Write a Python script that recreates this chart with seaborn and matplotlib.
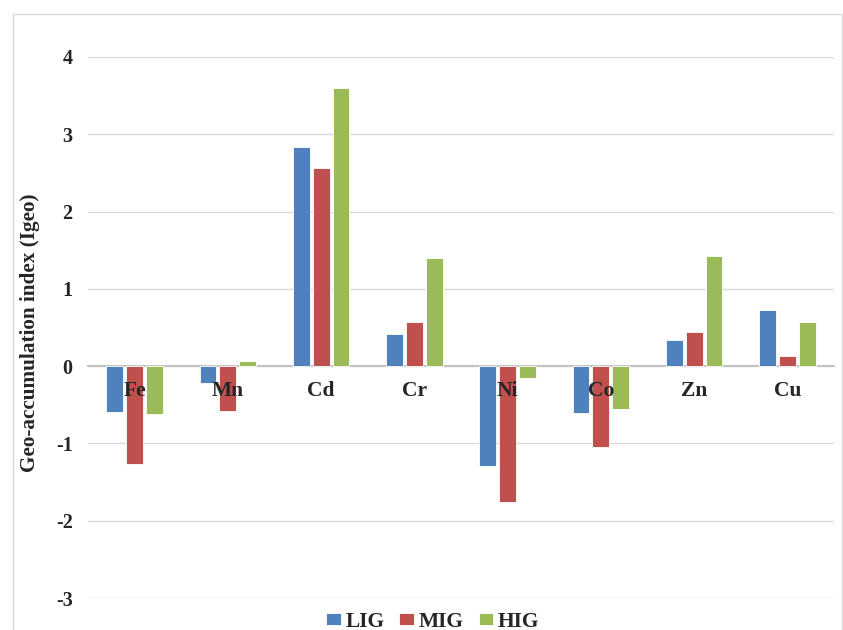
import matplotlib
matplotlib.use("Agg")
import matplotlib.pyplot as plt
from matplotlib.patches import Rectangle
import seaborn as sns
import pandas as pd

metals = ["Fe", "Mn", "Cd", "Cr", "Ni", "Co", "Zn", "Cu"]
lig = [-0.59, -0.22, 2.84, 0.42, -1.29, -0.61, 0.34, 0.73]
mig = [-1.27, -0.58, 2.57, 0.57, -1.76, -1.04, 0.44, 0.13]
hig = [-0.62, 0.07, 3.60, 1.40, -0.15, -0.55, 1.42, 0.57]
groups = ["LIG", "MIG", "HIG"]
colors = ["#4F81BD", "#C0504D", "#9BBB59"]
yticks = [-3, -2, -1, 0, 1, 2, 3, 4]

df = pd.DataFrame({
    "metal": metals * 3,
    "group": [g for g in groups for _ in metals],
    "igeo": lig + mig + hig,
})

sns.set_theme(style="white")
plt.rcParams["font.family"] = ["Liberation Serif", "DejaVu Serif"]
plt.rcParams["font.weight"] = "bold"

W, H = 843, 630
fig = plt.figure(figsize=(W / 100, H / 100), dpi=100)
ax = fig.add_axes([88 / W, 1 - 598 / H, (834 - 88) / W, (598 - 57) / H])

sns.barplot(data=df, x="metal", y="igeo", hue="group", order=metals,
            hue_order=groups, palette=colors, saturation=1, width=0.64,
            gap=0.15, edgecolor="white", linewidth=0.6, errorbar=None,
            ax=ax, zorder=2)

ax.set_ylim(-3, 4)
ax.set_xlim(-0.5, len(metals) - 0.5)
ax.set_yticks(yticks)
ax.set_yticklabels([str(t) for t in yticks], fontsize=14.5, fontweight="bold")
ax.yaxis.grid(True, color="#D9D9D9", linewidth=1.0)
ax.set_axisbelow(True)
ax.xaxis.set_zorder(5)

for side in ["top", "right", "left"]:
    ax.spines[side].set_visible(False)
ax.spines["bottom"].set_position(("data", 0))
ax.spines["bottom"].set_color("#BFBFBF")
ax.spines["bottom"].set_linewidth(1.3)
ax.spines["bottom"].set_zorder(1)

ax.tick_params(axis="x", length=0, pad=11, labelsize=15.5)
ax.tick_params(axis="y", length=0, pad=11)
for lbl in ax.get_xticklabels():
    lbl.set_fontweight("bold")

ax.set_xlabel("")
ax.set_ylabel("Geo-accumulation index (Igeo)", fontsize=15.3,
              fontweight="bold")
ax.yaxis.set_label_coords(-0.064, 0.49)

handles, labels = ax.get_legend_handles_labels()
ax.legend(handles, labels, loc="lower center", bbox_to_anchor=(0.462, -0.098),
          ncol=3, frameon=False, handlelength=0.68, handleheight=0.5,
          handletextpad=0.2, columnspacing=0.7,
          prop={"weight": "bold", "size": 15.5})

border = Rectangle((13 / W, -0.05), (842 - 13) / W, 1.05 - 14 / H,
                   transform=fig.transFigure, fill=False,
                   edgecolor="#D9D9D9", linewidth=1.0)
fig.patches.append(border)

fig.savefig("out.png", dpi=100)
